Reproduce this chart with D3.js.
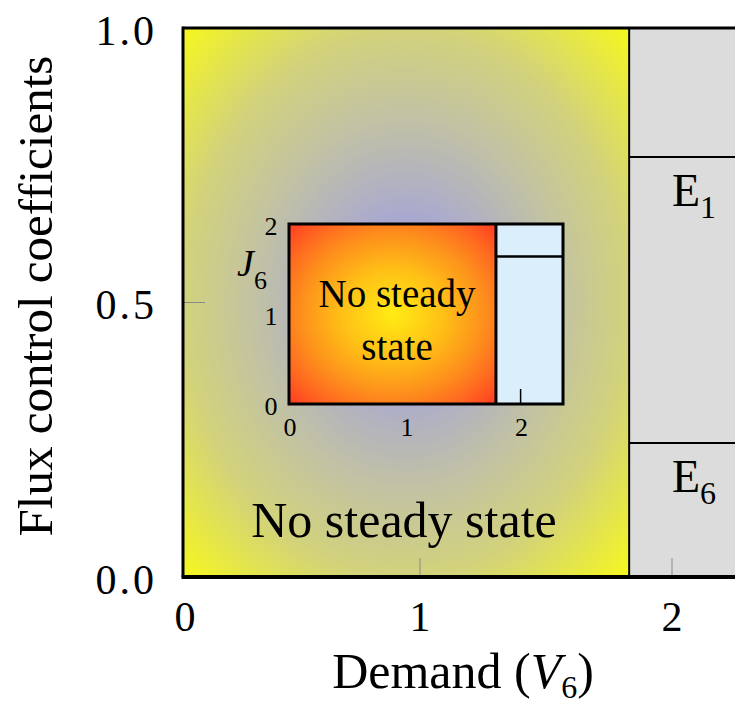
<!DOCTYPE html>
<html>
<head>
<meta charset="utf-8">
<script src="https://cdn.jsdelivr.net/npm/d3@7"></script>
<style>
  body { margin: 0; background: #fff; }
  svg { display: block; }
  text { font-family: "Liberation Serif", "DejaVu Serif", serif; fill: #000; }
</style>
</head>
<body>
<svg id="chart" width="735" height="707"></svg>
<script>
// ---- Main panel: flux control coefficients against demand (V6) ----
const xTickValues = [0, 1, 2];
const xTickLabels = ["0", "1", "2"];
const yTickValues = [0, 0.5, 1];
const yTickLabels = ["0.0", "0.5", "1.0"];
const demandMax = 2.25;
const noSteadyLimit = 1.83;            // below this demand there is no steady state
const enzymeNames = ["1", "6"];        // subscripts of E
const enzymeCoefficients = [0.765, 0.244];

// ---- Inset: steady-state flux J6 against demand ----
const insetXTickValues = [0, 1, 2];
const insetXTickLabels = ["0", "1", "2"];
const insetYTickValues = [0, 1, 2];
const insetYTickLabels = ["0", "1", "2"];
const insetDemandMax = 2.37;
const insetNoSteadyLimit = 1.785;
const insetFlux = 1.64;

const svg = d3.select("#chart");
const defs = svg.append("defs");

// Main plot area
const x = d3.scaleLinear().domain([0, 1, demandMax]).range([183, 420, 735]);
const y = d3.scaleLinear().domain([0, 1]).range([577, 28]);

// Radial shading of the no-steady-state region
const g1 = defs.append("radialGradient").attr("id", "haze")
  .attr("cx", "50%").attr("cy", "50%").attr("r", "71%");
[[0, "#9c9cdc"], [0.22, "#a9a9d0"], [0.48, "#c2c2a4"], [0.7, "#d2d27c"], [1, "#f6f81c"]]
  .forEach(([o, c]) => g1.append("stop").attr("offset", o).attr("stop-color", c));

svg.append("rect")
  .attr("x", x(0)).attr("y", y(1))
  .attr("width", x(noSteadyLimit) - x(0)).attr("height", y(0) - y(1))
  .attr("fill", "url(#haze)");

svg.append("rect")
  .attr("x", x(noSteadyLimit)).attr("y", y(1))
  .attr("width", x(demandMax) - x(noSteadyLimit)).attr("height", y(0) - y(1))
  .attr("fill", "#dcdcdc");

// Constant flux control coefficients once a steady state exists
const line = d3.line().x(d => x(d[0])).y(d => y(d[1]));
enzymeCoefficients.forEach(c => {
  svg.append("path")
    .attr("d", line([[noSteadyLimit, c], [demandMax, c]]))
    .attr("stroke", "#000").attr("stroke-width", 2).attr("fill", "none");
});

// Tick marks
svg.append("g").selectAll("line").data(xTickValues.filter(v => v > 0)).join("line")
  .attr("x1", d => x(d)).attr("x2", d => x(d))
  .attr("y1", y(0)).attr("y2", y(0) - 19)
  .attr("stroke", "#8a8a8a").attr("stroke-width", 1);
svg.append("g").selectAll("line").data(yTickValues.filter(v => v > 0 && v < 1)).join("line")
  .attr("x1", x(0)).attr("x2", x(0) + 22)
  .attr("y1", d => y(d)).attr("y2", d => y(d))
  .attr("stroke", "#8a8a8a").attr("stroke-width", 1);

// Region boundary and frame
svg.append("line")
  .attr("x1", x(noSteadyLimit)).attr("x2", x(noSteadyLimit))
  .attr("y1", y(1)).attr("y2", y(0))
  .attr("stroke", "#000").attr("stroke-width", 2);
svg.append("line").attr("x1", x(0)).attr("x2", x(demandMax))
  .attr("y1", y(1)).attr("y2", y(1)).attr("stroke", "#000").attr("stroke-width", 3);
svg.append("line").attr("x1", x(0) - 1.5).attr("x2", x(demandMax))
  .attr("y1", y(0)).attr("y2", y(0)).attr("stroke", "#000").attr("stroke-width", 4);
svg.append("line").attr("x1", x(0)).attr("x2", x(0))
  .attr("y1", y(1) - 1.5).attr("y2", y(0)).attr("stroke", "#000").attr("stroke-width", 3);

// Axis tick labels
svg.append("g").selectAll("text").data(xTickValues).join("text")
  .attr("x", (d, i) => i === 0 ? x(d) + 2 : x(d))
  .attr("y", 631)
  .attr("text-anchor", "middle").attr("font-size", 42)
  .text((d, i) => xTickLabels[i]);
svg.append("g").selectAll("text").data(yTickValues).join("text")
  .attr("x", 157)
  .attr("y", d => y(d) + 2)
  .attr("dy", "0.35em")
  .attr("text-anchor", "end").attr("font-size", 42).attr("letter-spacing", 3)
  .text((d, i) => yTickLabels[i]);

// Axis titles
const xt = svg.append("text").attr("x", 463).attr("y", 688)
  .attr("text-anchor", "middle").attr("font-size", 50);
xt.append("tspan").text("Demand (");
xt.append("tspan").attr("font-style", "italic").text("V");
xt.append("tspan").attr("font-size", 32).attr("dy", 10).text("6");
xt.append("tspan").attr("dy", -10).text(")");

svg.append("text")
  .attr("transform", "translate(52,296) rotate(-90)")
  .attr("text-anchor", "middle").attr("font-size", 49)
  .text("Flux control coefficients");

// Region labels
svg.append("text").attr("x", 404).attr("y", 537)
  .attr("text-anchor", "middle").attr("font-size", 50)
  .text("No steady state");

enzymeCoefficients.forEach((c, i) => {
  const t = svg.append("text")
    .attr("x", 694).attr("y", y(c) + 49)
    .attr("text-anchor", "middle").attr("font-size", 46);
  t.append("tspan").text("E");
  t.append("tspan").attr("font-size", 32).attr("dy", 12).text(enzymeNames[i]);
});

// ---- Inset ----
const xi = d3.scaleLinear().domain([0, 1, insetDemandMax]).range([289, 406, 563]);
const yi = d3.scaleLinear().domain([0, 2]).range([404, 224]);

const g2 = defs.append("radialGradient").attr("id", "glow")
  .attr("cx", "50%").attr("cy", "50%").attr("r", "71%");
[[0, "#ffec14"], [0.35, "#ffbf16"], [0.62, "#fd901c"], [0.8, "#ff6a20"], [1, "#ff3a22"]]
  .forEach(([o, c]) => g2.append("stop").attr("offset", o).attr("stop-color", c));

const inset = svg.append("g");
inset.append("rect")
  .attr("x", xi(0)).attr("y", yi(2))
  .attr("width", xi(insetNoSteadyLimit) - xi(0)).attr("height", yi(0) - yi(2))
  .attr("fill", "url(#glow)");
inset.append("rect")
  .attr("x", xi(insetNoSteadyLimit)).attr("y", yi(2))
  .attr("width", xi(insetDemandMax) - xi(insetNoSteadyLimit)).attr("height", yi(0) - yi(2))
  .attr("fill", "#dbeefb");
inset.append("path")
  .attr("d", d3.line().x(d => xi(d[0])).y(d => yi(d[1]))(
    [[insetNoSteadyLimit, insetFlux], [insetDemandMax, insetFlux]]))
  .attr("stroke", "#000").attr("stroke-width", 2.5);
inset.selectAll(".itick").data(insetXTickValues.filter(v => v > insetNoSteadyLimit)).join("line")
  .attr("x1", d => xi(d)).attr("x2", d => xi(d))
  .attr("y1", yi(0)).attr("y2", yi(0) - 15)
  .attr("stroke", "#000").attr("stroke-width", 1.5);
inset.append("line")
  .attr("x1", xi(insetNoSteadyLimit)).attr("x2", xi(insetNoSteadyLimit))
  .attr("y1", yi(2)).attr("y2", yi(0))
  .attr("stroke", "#000").attr("stroke-width", 3);
inset.append("rect")
  .attr("x", xi(0)).attr("y", yi(2))
  .attr("width", xi(insetDemandMax) - xi(0)).attr("height", yi(0) - yi(2))
  .attr("fill", "none").attr("stroke", "#000").attr("stroke-width", 3);

inset.append("g").selectAll("text").data(insetXTickValues).join("text")
  .attr("x", d => xi(d) + 1).attr("y", 436)
  .attr("text-anchor", "middle").attr("font-size", 26)
  .text((d, i) => insetXTickLabels[i]);
inset.append("g").selectAll("text").data(insetYTickValues).join("text")
  .attr("x", 271).attr("y", d => yi(d) + 2).attr("dy", "0.35em")
  .attr("text-anchor", "middle").attr("font-size", 26)
  .text((d, i) => insetYTickLabels[i]);

const jl = inset.append("text").attr("x", 237).attr("y", 276).attr("font-size", 38);
jl.append("tspan").attr("font-style", "italic").text("J");
jl.append("tspan").attr("font-size", 26).attr("dy", 13).text("6");

inset.append("text").attr("x", 397).attr("y", 307)
  .attr("text-anchor", "middle").attr("font-size", 39).text("No steady");
inset.append("text").attr("x", 397).attr("y", 360)
  .attr("text-anchor", "middle").attr("font-size", 39).text("state");
</script>
</body>
</html>
